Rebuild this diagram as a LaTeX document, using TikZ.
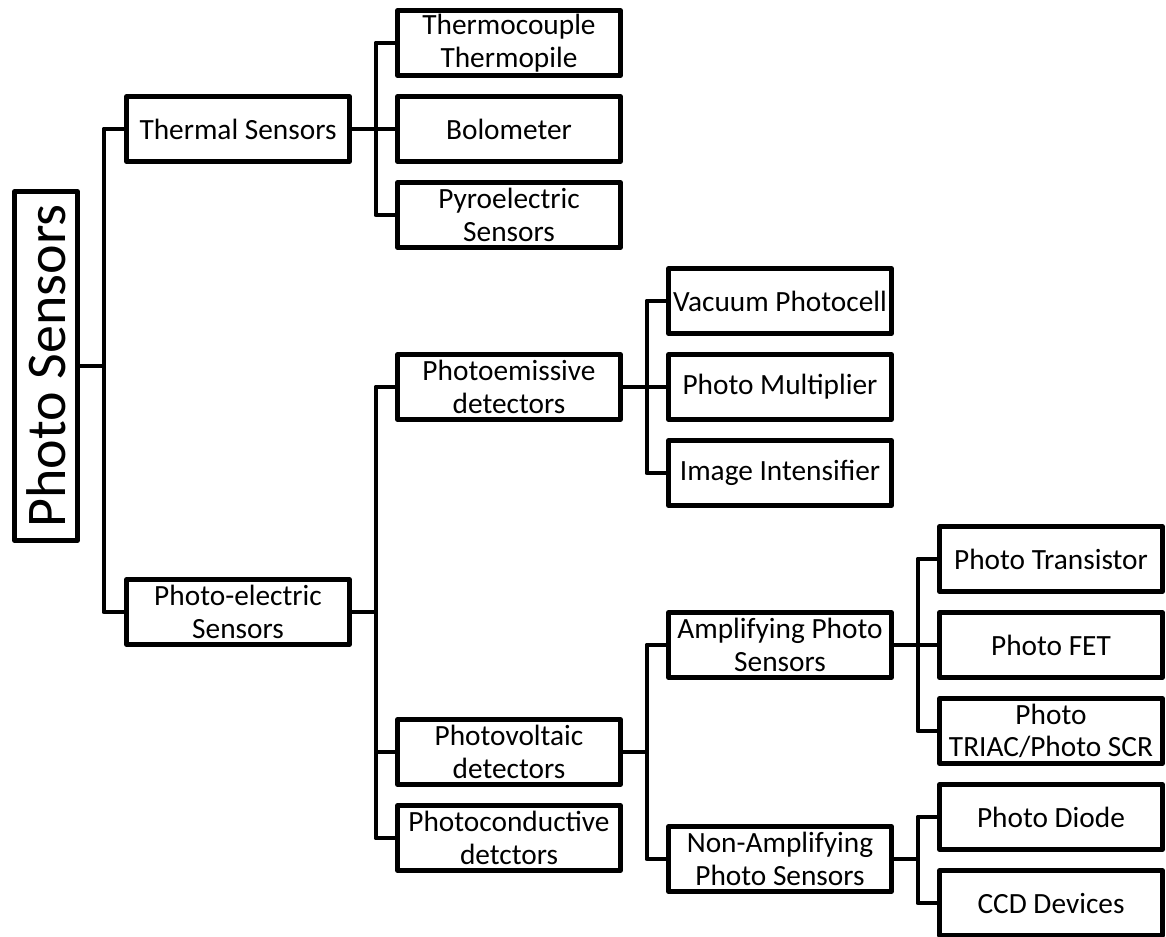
\documentclass[tikz,border=0pt]{standalone}
\usepackage{fontspec}
\setmainfont{Carlito}
\usetikzlibrary{positioning}

\tikzset{
  box/.style={draw, line width=3.6pt, line join=round, minimum width=167.25pt,
    minimum height=48.75pt, inner sep=0pt, align=center,
    font=\fontsize{22}{24.5}\selectfont},
  rootbox/.style={box, minimum width=47.25pt, minimum height=261.75pt,
    font=\fontsize{42}{48}\selectfont},
  link/.style={line width=3.6pt, line join=round,
    to path={(\tikztostart.east) -- ++(18pt,0) |- (\tikztotarget.west)}}
}

\begin{document}
\begin{tikzpicture}[on grid, node distance=64.5pt and 203.25pt]
	   \useasboundingbox (0,0) rectangle (874.5pt,-702pt);
	   \node[rootbox] (ps) at (34.5pt,-274.5pt) {\rotatebox{90}{Photo Sensors}};
	   \node[box] (therm) [above right=177.75pt and 144pt of ps] {Thermal Sensors};
	   \node[box] (pelec) [below=362.25pt of therm] {Photo-electric\\Sensors};
	   \node[box] (bolo) [right=of therm] {Bolometer};
	   \node[box] (tc) [above=of bolo] {Thermocouple\\Thermopile};
	   \node[box] (pyro) [below=of bolo] {Pyroelectric\\Sensors};
	   \node[box] (pemis) [above right=168.75pt and 203.25pt of pelec] {Photoemissive\\detectors};
	   \node[box] (pvolt) [below=273.75pt of pemis] {Photovoltaic\\detectors};
	   \node[box] (pcond) [below=of pvolt] {Photoconductive\\detctors};
	   \node[box] (pmt) [right=of pemis] {Photo Multiplier};
	   \node[box] (vac) [above=of pmt] {Vacuum Photocell};
	   \node[box] (iint) [below=of pmt] {Image Intensifier};
	   \node[box] (amp) [above right=80.25pt and 203.25pt of pvolt] {Amplifying Photo\\Sensors};
	   \node[box] (namp) [below=160.5pt of amp] {Non-Amplifying\\Photo Sensors};
	   \node[box] (pfet) [right=of amp] {Photo FET};
	   \node[box] (ptr) [above=of pfet] {Photo Transistor};
	   \node[box] (ptriac) [below=of pfet] {Photo\\TRIAC/Photo SCR};
	   \node[box] (pdiode) [above right=31.5pt and 203.25pt of namp] {Photo Diode};
	   \node[box] (ccd) [below=of pdiode] {CCD Devices};
	    \path[link]
	    (ps) edge (therm)
	         edge (pelec)
	    (therm) edge (tc)
	            edge (bolo)
	            edge (pyro)
	    (pelec) edge (pemis)
	            edge (pvolt)
	            edge (pcond)
	    (pemis) edge (vac)
	            edge (pmt)
	            edge (iint)
	    (pvolt) edge (amp)
	            edge (namp)
	    (amp) edge (ptr)
	          edge (pfet)
	          edge (ptriac)
	    (namp) edge (pdiode)
	           edge (ccd);
\end{tikzpicture}
\end{document}
